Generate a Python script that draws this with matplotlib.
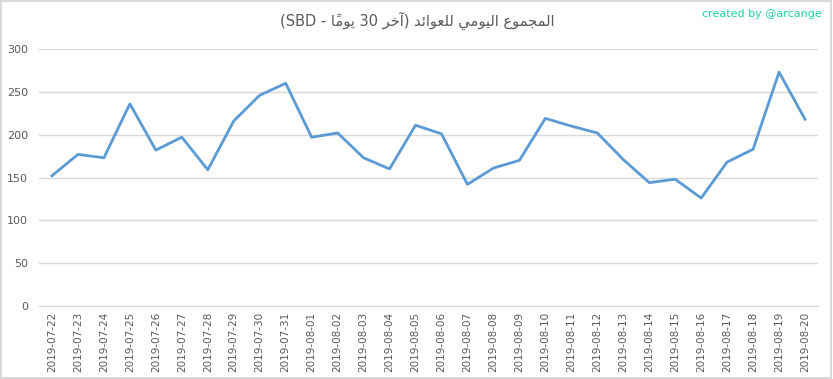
import matplotlib
matplotlib.use("Agg")
import matplotlib.pyplot as plt
import matplotlib.patches as mpatches

# daily rewards, last 30 days (SBD)
dates = ["2019-07-22", "2019-07-23", "2019-07-24", "2019-07-25", "2019-07-26",
         "2019-07-27", "2019-07-28", "2019-07-29", "2019-07-30", "2019-07-31",
         "2019-08-01", "2019-08-02", "2019-08-03", "2019-08-04", "2019-08-05",
         "2019-08-06", "2019-08-07", "2019-08-08", "2019-08-09", "2019-08-10",
         "2019-08-11", "2019-08-12", "2019-08-13", "2019-08-14", "2019-08-15",
         "2019-08-16", "2019-08-17", "2019-08-18", "2019-08-19", "2019-08-20"]
rewards = [152, 177, 173, 236, 182, 197, 159, 216, 246, 260,
           197, 202, 173, 160, 211, 201, 142, 161, 170, 219,
           210, 202, 171, 144, 148, 126, 168, 183, 273, 218]
y_ticks = [0, 50, 100, 150, 200, 250, 300]

# Arabic title written in visual order with presentation forms,
# since matplotlib does no shaping or bidi.
# logical: المجموع اليومي للعوائد (آخر 30 يومًا - SBD)
w_majmou = "\uFEC9\uFEEE\uFEE4\uFEA0\uFEE4\uFEDF\uFE8D"
w_yawmi = "\uFEF2\uFEE3\uFEEE\uFEF4\uFEDF\uFE8D"
w_awaid = "\uFEAA\uFE8B\uFE8D\uFEEE\uFECC\uFEE0\uFEDF"
w_akhir = "\uFEAE\uFEA7\uFE81"
w_yawman = "\uFE8E\u064B\uFEE3\uFEEE\uFEF3"
title = "(SBD - " + w_yawman + " 30 " + w_akhir + ") " + w_awaid + " " + w_yawmi + " " + w_majmou

text_gray = "#595959"
grid_gray = "#d9d9d9"

fig = plt.figure(figsize=(8.33, 3.79), dpi=100)
ax = fig.add_axes([39 / 833, 73 / 379, 779 / 833, 257 / 379])

x = list(range(len(dates)))
ax.plot(x, rewards, color="#5b9bd5", linewidth=2, solid_joinstyle="round")

ax.set_xlim(-0.5, len(dates) - 0.5)
ax.set_ylim(0, 300)
ax.set_yticks(y_ticks)
ax.set_xticks(x)
ax.set_xticklabels(dates, rotation=90)
ax.tick_params(axis="y", length=0, pad=8, labelsize=8, labelcolor=text_gray)
ax.tick_params(axis="x", length=0, pad=4, labelsize=7.5, labelcolor=text_gray)
ax.grid(axis="y", color=grid_gray, linewidth=1)
ax.set_axisbelow(True)
for side in ["left", "right", "top"]:
    ax.spines[side].set_visible(False)
ax.spines["bottom"].set_color(grid_gray)

fig.text(0.501, 0.945, title, ha="center", va="center", fontsize=10.5,
         color=text_gray, family="DejaVu Sans")
fig.text(0.987, 0.962, "created by @arcange", ha="right", va="center",
         fontsize=8, color="#1fd3a0")

# light frame round the whole picture
fig.patches.append(mpatches.Rectangle((0.001, 0.002), 0.997, 0.995,
                                      transform=fig.transFigure, fill=False,
                                      edgecolor=grid_gray, linewidth=1.5))

plt.savefig("out.png", dpi=100)
plt.close()
